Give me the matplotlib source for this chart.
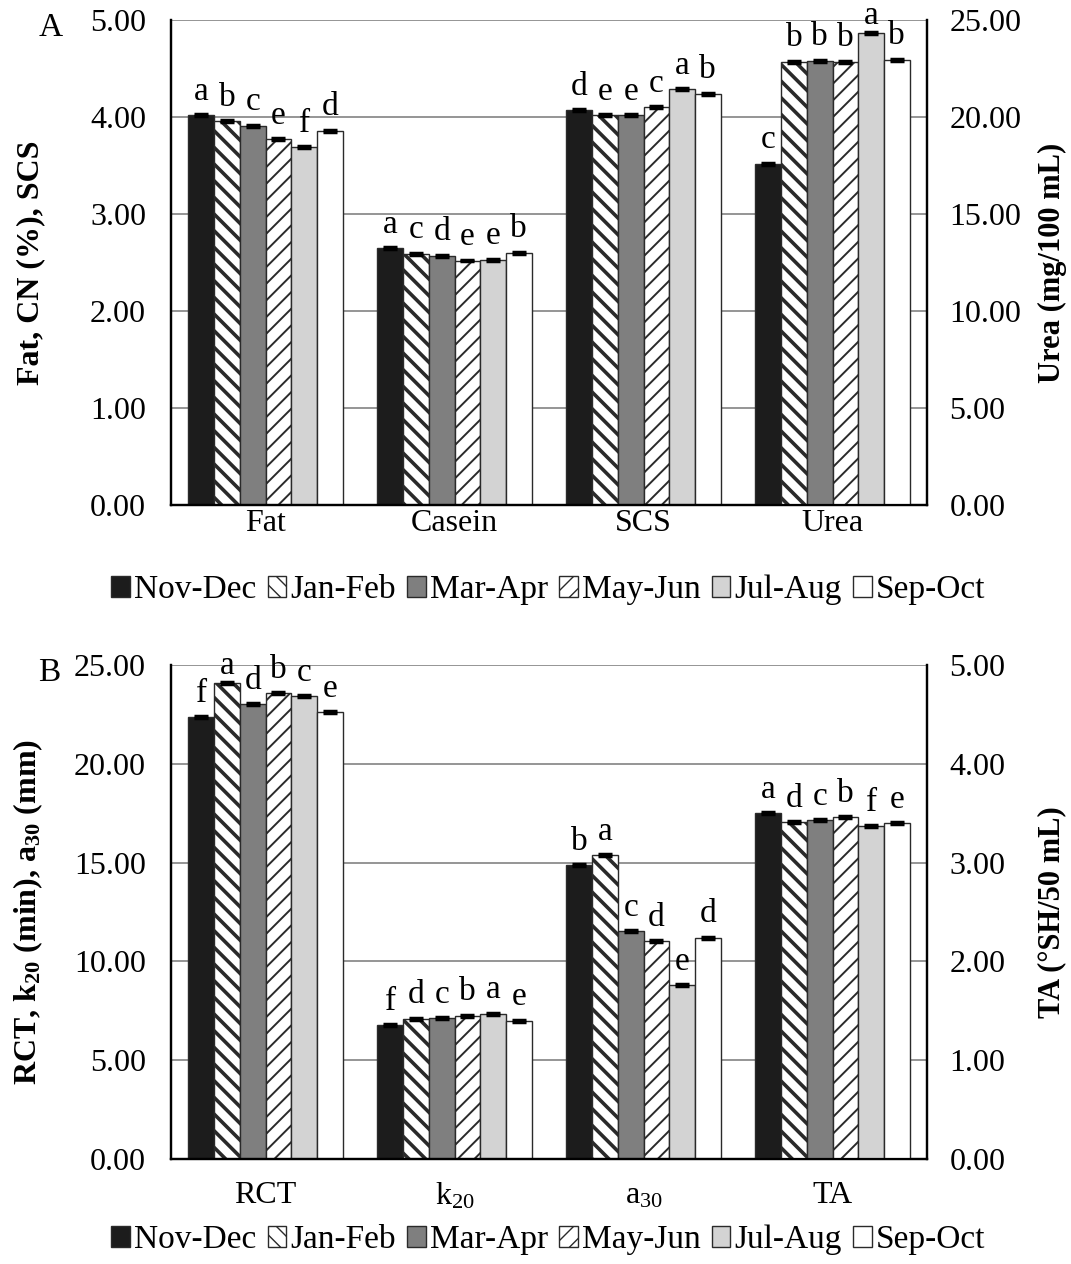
import numpy as np
import matplotlib
matplotlib.use("Agg")
import matplotlib.pyplot as plt
from matplotlib.patches import Patch

plt.rcParams["font.family"] = ["Liberation Serif", "DejaVu Serif"]
plt.rcParams["mathtext.fontset"] = "custom"
plt.rcParams["mathtext.rm"] = "Liberation Serif"
plt.rcParams["mathtext.default"] = "regular"
plt.rcParams["hatch.color"] = "#111111"

seasons = ["Nov-Dec", "Jan-Feb", "Mar-Apr", "May-Jun", "Jul-Aug", "Sep-Oct"]

# panel A: Fat, Casein, SCS on left axis; Urea on right axis
cats_a = ["Fat", "Casein", "SCS", "Urea"]
fat = [4.02, 3.96, 3.91, 3.77, 3.69, 3.86]
casein = [2.65, 2.59, 2.57, 2.52, 2.53, 2.60]
scs = [4.07, 4.02, 4.02, 4.10, 4.29, 4.24]
urea = [17.6, 22.85, 22.9, 22.85, 24.35, 22.95]
letters_a = [
    ["a", "b", "c", "e", "f", "d"],
    ["a", "c", "d", "e", "e", "b"],
    ["d", "e", "e", "c", "a", "b"],
    ["c", "b", "b", "b", "a", "b"],
]

# panel B: RCT, k20, a30 on left axis; TA on right axis
cats_b = ["RCT", "k$_{20}$", "a$_{30}$", "TA"]
rct = [22.35, 24.1, 23.03, 23.57, 23.43, 22.6]
k20 = [6.77, 7.1, 7.12, 7.25, 7.35, 7.0]
a30 = [14.86, 15.37, 11.52, 11.03, 8.8, 11.2]
ta = [3.50, 3.41, 3.43, 3.46, 3.37, 3.40]
letters_b = [
    ["f", "a", "d", "b", "c", "e"],
    ["f", "d", "c", "b", "a", "e"],
    ["b", "a", "c", "d", "e", "d"],
    ["a", "d", "c", "b", "f", "e"],
]

face = ["#1c1c1c", "white", "#7f7f7f", "white", "#d3d3d3", "white"]
hatch = [None, "\\\\", None, "//", None, None]
hatch_lw = [1.0, 2.6, 1.0, 1.4, 1.0, 1.0]
edge = "#2a2a2a"

fig = plt.figure(figsize=(10.71, 12.64), dpi=100)

width = 0.136
offsets = (np.arange(6) - 2.5) * width
FS = 23


def hatched_patch(i, **kw):
    with plt.rc_context({"hatch.linewidth": hatch_lw[i]}):
        p = Patch(facecolor=face[i], hatch=hatch[i], edgecolor=edge,
                  linewidth=1.0, **kw)
    if hasattr(p, "set_hatch_linewidth"):
        p.set_hatch_linewidth(hatch_lw[i])
    return p


def draw_panel(rect, cats, left_series, right_series, letters, lmax, rmax,
               lticks, rticks, ylabel_l, ylabel_r, tag, leg_y, xpad):
    ax = fig.add_axes(rect)
    ax2 = ax.twinx()
    x = np.arange(len(cats))
    groups = [(ax, s) for s in left_series] + [(ax2, right_series)]
    for gi, (axis, vals) in enumerate(groups):
        top = rmax if axis is ax2 else lmax
        se = top * 0.002
        for si in range(6):
            xp = x[gi] + offsets[si]
            with plt.rc_context({"hatch.linewidth": hatch_lw[si]}):
                bars = axis.bar(xp, vals[si], width, color=face[si],
                                hatch=hatch[si], edgecolor=edge,
                                linewidth=1.0, zorder=2)
            for b in bars:
                if hasattr(b, "set_hatch_linewidth"):
                    b.set_hatch_linewidth(hatch_lw[si])
            axis.errorbar(xp, vals[si], yerr=se, color="black", capsize=5,
                          capthick=2.5, elinewidth=1, zorder=3)
            dy = 1 if vals[si] > 0.96 * top else 6
            axis.annotate(letters[gi][si], (xp, vals[si]), xytext=(0, dy),
                          textcoords="offset points", ha="center", va="bottom",
                          fontsize=FS + 1, zorder=4)
    ax.set_xlim(-0.5, len(cats) - 0.5)
    ax.set_ylim(0, lmax)
    ax2.set_ylim(0, rmax)
    ax.set_yticks(lticks)
    ax.set_yticklabels(["%.2f" % v for v in lticks], fontsize=FS)
    ax2.set_yticks(rticks)
    ax2.set_yticklabels(["%.2f" % v for v in rticks], fontsize=FS)
    ax.set_xticks(x)
    ax.set_xticklabels(cats, fontsize=FS)
    ax.tick_params(axis="y", length=0, pad=18)
    ax2.tick_params(axis="y", length=0, pad=16)
    ax.tick_params(axis="x", length=0, pad=xpad)
    ax.yaxis.grid(True, color="#8c8c8c", linewidth=1.3)
    ax.set_axisbelow(True)
    for a in (ax, ax2):
        a.spines["top"].set_visible(False)
        for s in ("left", "right", "bottom"):
            a.spines[s].set_linewidth(1.6)
            a.spines[s].set_color("black")
    ax.set_ylabel(ylabel_l, fontsize=FS, fontweight="bold")
    ax2.set_ylabel(ylabel_r, fontsize=FS - 1, fontweight="bold")
    ax.yaxis.set_label_coords(-0.167, 0.5)
    ax2.yaxis.set_label_coords(1.146, 0.5)
    fig.text(0.036, rect[1] + rect[3] - 0.006, tag, fontsize=FS + 1,
             ha="left", va="center")
    handles = [hatched_patch(i, label=seasons[i]) for i in range(6)]
    fig.legend(handles=handles, loc="center", bbox_to_anchor=(0.512, leg_y),
               ncol=6, frameon=False, fontsize=FS + 1, handlelength=0.55,
               handleheight=0.55, handletextpad=0.12, columnspacing=0.35,
               borderaxespad=0)
    return ax, ax2


draw_panel([0.1597, 0.6005, 0.7059, 0.3837], cats_a, [fat, casein, scs], urea,
           letters_a, 5, 25, [0, 1, 2, 3, 4, 5], [0, 5, 10, 15, 20, 25],
           "Fat, CN (%), SCS", "Urea (mg/100 mL)", "A", 1 - 590 / 1264, 3)

draw_panel([0.1597, 0.0831, 0.7059, 0.3908], cats_b, [rct, k20, a30], ta,
           letters_b, 25, 5, [0, 5, 10, 15, 20, 25], [0, 1, 2, 3, 4, 5],
           "RCT, k$_{20}$ (min), a$_{30}$ (mm)", "TA (°SH/50 mL)", "B",
           1 - 1240 / 1264, 16)

fig.savefig("out.png", dpi=100)
